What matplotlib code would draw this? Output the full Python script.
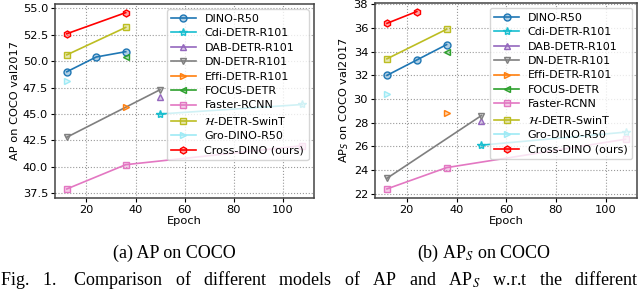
import matplotlib
matplotlib.use("Agg")
import matplotlib.pyplot as plt

# model names, epochs and scores
models = ["DINO-R50", "Cdi-DETR-R101", "DAB-DETR-R101", "DN-DETR-R101", "Effi-DETR-R101",
          "FOCUS-DETR", "Faster-RCNN", r"$\mathcal{H}$-DETR-SwinT", "Gro-DINO-R50", "Cross-DINO (ours)"]

ep_dino = [12, 24, 36]
ep_cdi = [50, 108]
ep_dab = [50]
ep_dn = [12, 50]
ep_effi = [36]
ep_focus = [36]
ep_faster = [12, 36, 108]
ep_hdetr = [12, 36]
ep_gro = [12]
ep_cross_ap = [12, 36]
ep_cross_aps = [12, 24]

ap_dino = [49.0, 50.4, 50.9]
ap_cdi = [45.0, 45.9]
ap_dab = [46.6]
ap_dn = [42.8, 47.3]
ap_effi = [45.7]
ap_focus = [50.4]
ap_faster = [37.9, 40.2, 42.0]
ap_hdetr = [50.6, 53.2]
ap_gro = [48.1]
ap_cross = [52.6, 54.6]

aps_dino = [32.0, 33.3, 34.6]
aps_cdi = [26.1, 27.2]
aps_dab = [28.1]
aps_dn = [23.3, 28.6]
aps_effi = [28.8]
aps_focus = [34.0]
aps_faster = [22.4, 24.2, 26.6]
aps_hdetr = [33.4, 35.9]
aps_gro = [30.4]
aps_cross = [36.4, 37.4]

colors = ["#1f77b4", "#17becf", "#9467bd", "#7f7f7f", "#ff7f0e",
          "#2ca02c", "#e377c2", "#bcbd22", "#9eeaf5", "#ff0000"]
markers = ["o", "*", "^", "v", ">", "<", "s", "s", ">", "h"]

caption_words = ["Fig.", "1.", " Comparison", "of", "different", "models", "of", "AP", "and",
                 r"AP$_S$", "w.r.t", "the", "different"]

plt.rcParams["font.family"] = "DejaVu Sans"
plt.rcParams["font.size"] = 8.2

fig = plt.figure(figsize=(6.4, 2.93), dpi=100)
ax_a = fig.add_axes([0.086, 0.325, 0.405, 0.662])
ax_b = fig.add_axes([0.586, 0.325, 0.410, 0.666])

series_a = [(ep_dino, ap_dino), (ep_cdi, ap_cdi), (ep_dab, ap_dab), (ep_dn, ap_dn),
            (ep_effi, ap_effi), (ep_focus, ap_focus), (ep_faster, ap_faster),
            (ep_hdetr, ap_hdetr), (ep_gro, ap_gro), (ep_cross_ap, ap_cross)]
series_b = [(ep_dino, aps_dino), (ep_cdi, aps_cdi), (ep_dab, aps_dab), (ep_dn, aps_dn),
            (ep_effi, aps_effi), (ep_focus, aps_focus), (ep_faster, aps_faster),
            (ep_hdetr, aps_hdetr), (ep_gro, aps_gro), (ep_cross_aps, aps_cross)]

for ax, series, ylabel in [(ax_a, series_a, "AP on COCO val2017"),
                           (ax_b, series_b, r"AP$_S$ on COCO val2017")]:
    for name, (x, y), c, m in zip(models, series, colors, markers):
        ax.plot(x, y, color=c, marker=m, markersize=5 if m != "*" else 6,
                markerfacecolor=(c, 0.35), markeredgecolor=c, linewidth=1.2, label=name)
    ax.set_xlabel("Epoch", labelpad=1)
    ax.set_ylabel(ylabel, labelpad=2)
    ax.grid(True, linestyle=":", color="#999999", linewidth=0.8)
    ax.tick_params(length=3, pad=2)
    for sp in ax.spines.values():
        sp.set_color("#444444")
        sp.set_linewidth(1.1)
    ax.legend(loc="upper right", fontsize=8, handlelength=2.2, labelspacing=0.4,
              borderpad=0.4, handletextpad=0.8, framealpha=0.8)

ax_a.set_yticks([37.5, 40.0, 42.5, 45.0, 47.5, 50.0, 52.5, 55.0])
ax_b.set_yticks([22, 24, 26, 28, 30, 32, 34, 36, 38])
ax_a.set_xticks([20, 40, 60, 80, 100])
ax_b.set_xticks([20, 40, 60, 80, 100])

fig.text(0.273, 0.135, "(a) AP on COCO", family="Liberation Serif", fontsize=13,
         ha="center", va="center", math_fontfamily="stix")
fig.text(0.756, 0.135, r"(b) AP$_S$ on COCO", family="Liberation Serif", fontsize=13,
         ha="center", va="center", math_fontfamily="stix")

# justified caption line: spread words over the full width
fig.text(0.0, 0.045, "   ".join(caption_words), family="Liberation Serif", fontsize=13,
         ha="left", va="center", math_fontfamily="stix")

fig.savefig("out.png", dpi=100)
